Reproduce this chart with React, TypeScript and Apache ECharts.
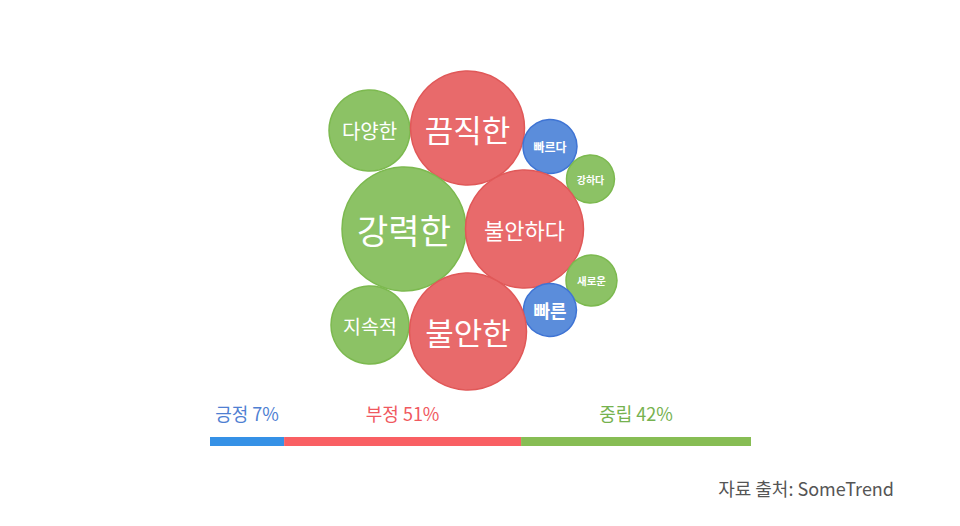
import React, { useRef, useEffect } from 'react';
import * as echarts from 'echarts';

// bubble words, sentiment, position (px units on hidden axes) and radius
const words = ['다양한', '끔직한', '빠르다', '강하다', '강력한', '불안하다', '새로운', '빠른', '지속적', '불안한'];
const sentiments = ['neu', 'neg', 'pos', 'neu', 'neu', 'neg', 'neu', 'pos', 'neu', 'neg'];
const xs = [369.5, 467.5, 550, 590.5, 404, 524.5, 591.5, 550, 370, 468];
const ys = [130.5, 128, 146.5, 179, 229, 229, 280.5, 310, 325, 331.5];
const radii = [40.5, 57, 27, 24, 62, 59, 25.5, 26.5, 39, 58.5];
const fontSizes = [20, 31, 12, 10, 34, 22, 10.5, 18, 19.5, 31];

// sentiment bar
const barNames = ['긍정', '부정', '중립'];
const barPercents = [7, 51, 42];
const barWidths = [13.7, 43.8, 42.5];

const fill: Record<string, string> = { pos: '#5b8ddb', neg: '#e86a6b', neu: '#8cc265' };
const stroke: Record<string, string> = { pos: '#3f74d4', neg: '#e05858', neu: '#7cb94f' };
const barColors = ['#3591e6', '#f95f63', '#87bd54'];
const labelColors = ['#4f7fd2', '#f0595f', '#76b24f'];

const FONT = "'Noto Sans CJK KR', 'Noto Sans', sans-serif";

const App: React.FC = () => {
    const chartRef = useRef<HTMLDivElement>(null);

    useEffect(() => {
        if (!chartRef.current) return;
        const chart = echarts.init(chartRef.current, null, { renderer: 'svg' });

        const bubbleData = words.map((w, i) => ({
            name: w,
            value: [xs[i], ys[i], radii[i]],
            symbolSize: radii[i] * 2,
            itemStyle: {
                color: fill[sentiments[i]],
                borderColor: stroke[sentiments[i]],
                borderWidth: 1.5,
                opacity: 1
            },
            label: {
                fontSize: fontSizes[i],
                fontWeight: (fontSizes[i] <= 18 ? 'bold' : 'normal') as any
            }
        }));

        const option: echarts.EChartsOption = {
            animation: false,
            backgroundColor: '#ffffff',
            textStyle: { fontFamily: FONT },
            title: {
                text: '자료 출처: SomeTrend',
                right: 66,
                top: 479,
                padding: 0,
                textStyle: { fontSize: 18, fontWeight: 'normal', color: '#555555', fontFamily: FONT }
            },
            grid: [
                { left: 0, top: 0, right: 0, bottom: 0 },
                { left: 210, top: 437, width: 541, height: 9 }
            ],
            xAxis: [
                { type: 'value', gridIndex: 0, min: 0, max: 960, show: false },
                { type: 'value', gridIndex: 1, min: 0, max: 100, show: false }
            ],
            yAxis: [
                { type: 'value', gridIndex: 0, min: 0, max: 526, inverse: true, show: false },
                { type: 'category', gridIndex: 1, data: ['감성'], show: false }
            ],
            series: [
                {
                    type: 'scatter',
                    xAxisIndex: 0,
                    yAxisIndex: 0,
                    symbol: 'circle',
                    data: bubbleData,
                    label: {
                        show: true,
                        position: 'inside',
                        color: '#ffffff',
                        fontFamily: FONT,
                        formatter: (p: any) => p.name
                    },
                    z: 2
                },
                ...barNames.map((n, i) => ({
                    type: 'bar' as const,
                    name: n,
                    xAxisIndex: 1,
                    yAxisIndex: 1,
                    stack: 'share',
                    barWidth: 9,
                    data: [barWidths[i]],
                    itemStyle: { color: barColors[i] },
                    label: {
                        show: true,
                        position: 'top' as const,
                        distance: 15,
                        color: labelColors[i],
                        fontSize: 18,
                        fontFamily: FONT,
                        formatter: () => `${n} ${barPercents[i]}%`
                    }
                }))
            ]
        };

        chart.setOption(option);
        return () => {
            chart.dispose();
        };
    }, []);

    return (
        <div
            ref={chartRef}
            style={{ position: 'fixed', left: 0, top: 0, width: 960, height: 526 }}
        />
    );
};

export default App;
